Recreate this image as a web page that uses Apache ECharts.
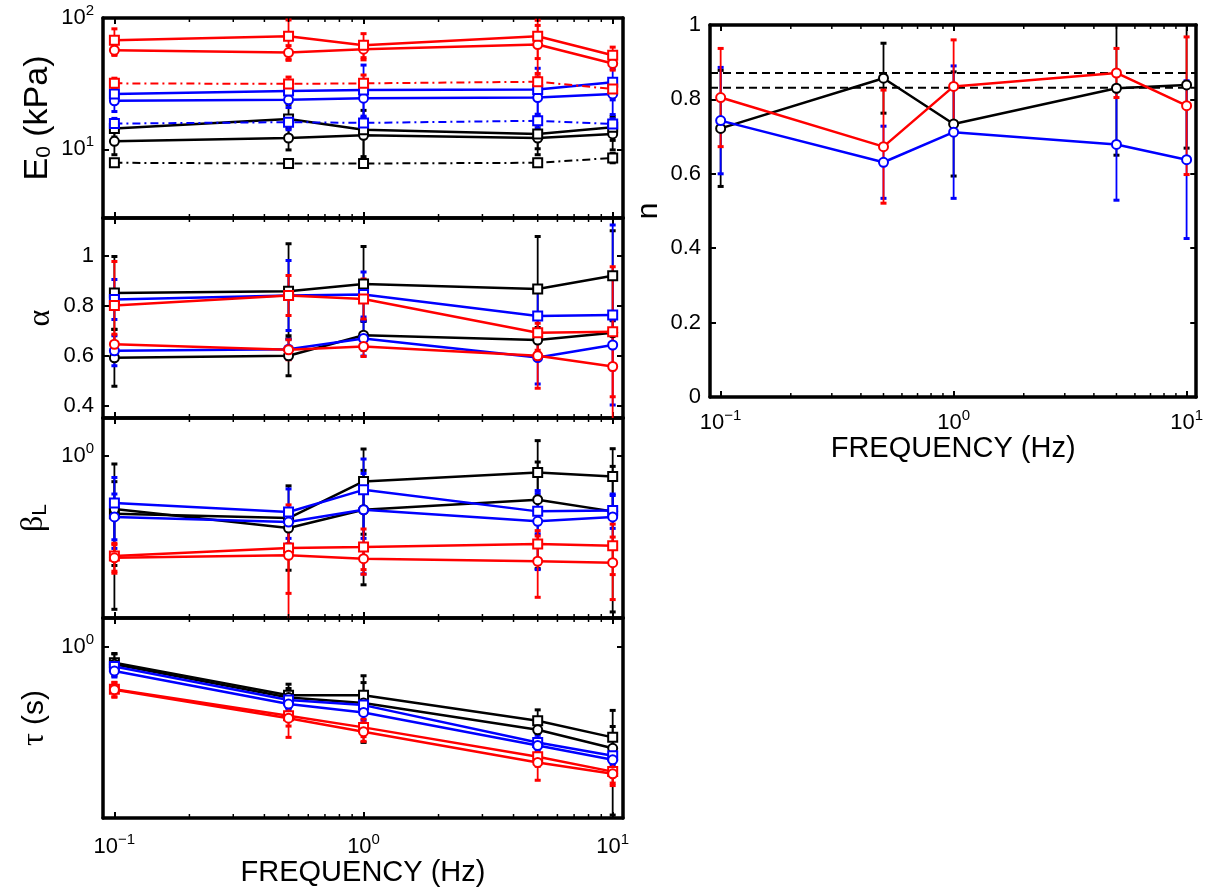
<!DOCTYPE html>
<html><head><meta charset="utf-8">
<script src="https://cdn.jsdelivr.net/npm/echarts@6/dist/echarts.min.js"></script>
<style>html,body{margin:0;padding:0;background:#fff}#c{width:1206px;height:890px}</style>
</head><body><div id="c"></div>
<script>
// ---------------- data ----------------
const freq = [0.1, 0.5, 1, 5, 10];
const minorTicks = [0.2,0.3,0.4,0.5,0.6,0.7,0.8,0.9,2,3,4,5,6,7,8,9];

// E0 (kPa)
const E0_blackDash = [7.9, 7.8, 7.8, 7.9, 8.6];
const E0_blackDash_err = [0.4, 0.4, 0.4, 0.5, 0.7];
const E0_blackCirc = [11.5, 12.2, 12.8, 12.2, 13.1];
const E0_blackCirc_err = [2.4, 2.3, 4, 3.1, 3.2];
const E0_blackSq = [14.4, 17.0, 14.1, 13.1, 14.7];
const E0_blackSq_err = [2, 5, 5.7, 3, 3];
const E0_blueDash = [15.7, 16.1, 15.9, 16.5, 15.6];
const E0_blueDash_err = [1.5, 2, 2, 2, 1.5];
const E0_blueCirc = [23.4, 23.8, 24.5, 24.8, 26.4];
const E0_blueCirc_err = [4, 3, 7, 7, 8];
const E0_blueSq = [26.4, 27.8, 28.3, 28.6, 32.4];
const E0_blueSq_err = [3, 3, 15.5, 12.8, 8.6];
const E0_redDash = [31.8, 31.5, 31.8, 32.7, 28.8];
const E0_redDash_err = [3, 4, 5, 3, 4];
const E0_redCirc = [56.9, 54.6, 57.9, 62.8, 45.1];
const E0_redCirc_err = [5, 7, 8, 25, 5];
const E0_redSq = [67.7, 72.6, 62, 72.6, 52];
const E0_redSq_err = [15, 24, 14, 23.5, 8];

// alpha
const A_blackSq = [0.85, 0.857, 0.886, 0.866, 0.919];
const A_blackSq_err = [0.146, 0.19, 0.15, 0.21, 0.18];
const A_blackCirc = [0.591, 0.599, 0.681, 0.662, 0.691];
const A_blackCirc_err = [0.114, 0.08, 0.06, 0.05, 0.06];
const A_blueSq = [0.824, 0.84, 0.844, 0.758, 0.762];
const A_blueSq_err = [0.08, 0.14, 0.09, 0.1, 0.36];
const A_blueCirc = [0.619, 0.625, 0.668, 0.592, 0.642];
const A_blueCirc_err = [0.06, 0.04, 0.07, 0.106, 0.1];
const A_redSq = [0.80, 0.84, 0.826, 0.691, 0.695];
const A_redSq_err = [0.176, 0.08, 0.08, 0.07, 0.26];
const A_redCirc = [0.645, 0.623, 0.636, 0.599, 0.556];
const A_redCirc_err = [0.04, 0.04, 0.04, 0.13, 0.22];

// beta_L
const B_blackSq = [0.507, 0.482, 0.739, 0.82, 0.783];
const B_blackSq_err = [0.23, 0.22, 0.34, 0.37, 0.3];
const B_blackCirc = [0.536, 0.429, 0.531, 0.597, 0.521];
const B_blackCirc_err = [0.37, 0.1, 0.31, 0.33, 0.36];
const B_blueSq = [0.574, 0.517, 0.67, 0.521, 0.527];
const B_blueSq_err = [0.2, 0.16, 0.29, 0.12, 0.1];
const B_blueCirc = [0.488, 0.46, 0.531, 0.464, 0.488];
const B_blueCirc_err = [0.15, 0.08, 0.28, 0.2, 0.15];
const B_redSq = [0.309, 0.34, 0.344, 0.356, 0.349];
const B_redSq_err = [0.05, 0.14, 0.08, 0.06, 0.1];
const B_redCirc = [0.303, 0.312, 0.3, 0.291, 0.286];
const B_redCirc_err = [0.05, 0.25, 0.05, 0.1, 0.1];

// tau (s)
const T_blackSq = [0.841, 0.586, 0.586, 0.441, 0.367];
const T_blackSq_err = [0.09, 0.076, 0.088, 0.057, 0.047];
const T_blackCirc = [0.826, 0.571, 0.537, 0.399, 0.325];
const T_blackCirc_err = [0.1, 0.06, 0.19, 0.05, 0.17];
const T_blueSq = [0.805, 0.556, 0.525, 0.347, 0.299];
const T_blueSq_err = [0.05, 0.05, 0.05, 0.03, 0.03];
const T_blueCirc = [0.767, 0.531, 0.484, 0.335, 0.286];
const T_blueCirc_err = [0.05, 0.04, 0.04, 0.03, 0.03];
const T_redSq = [0.626, 0.466, 0.41, 0.296, 0.251];
const T_redSq_err = [0.05, 0.05, 0.04, 0.03, 0.03];
const T_redCirc = [0.623, 0.454, 0.391, 0.278, 0.245];
const T_redCirc_err = [0.05, 0.087, 0.04, 0.05, 0.03];

// n
const N_black = [0.722, 0.857, 0.734, 0.83, 0.839];
const N_black_err = [0.156, 0.094, 0.14, 0.18, 0.17];
const N_blue = [0.743, 0.631, 0.712, 0.679, 0.638];
const N_blue_err = [0.143, 0.097, 0.178, 0.15, 0.212];
const N_red = [0.805, 0.673, 0.835, 0.871, 0.783];
const N_red_err = [0.132, 0.152, 0.125, 0.066, 0.185];
const N_refLines = [0.871, 0.831];

// ---------------- styling ----------------
const FONT = '"Liberation Sans", Arial, Helvetica, sans-serif';
const SERIF = '"Liberation Serif", "Times New Roman", serif';
const COL = {k: '#000000', b: '#0000ff', r: '#ff0000'};
const DASHDOT = [8, 4, 2, 4];
const LABEL_SIZE = 22;

function S(v, e, c, m, dash) { return {v, e, c, m, dash}; }

const panels = [
  { grid: {left: 103, top: 18, width: 520, height: 200},
    y: {type: 'log', min: 3, max: 100},
    name: '{A|E}{sub|0}{A| (kPa)}', nameGap: 48, label: 'pow', xLabels: false,
    series: [
      S(E0_blackDash, E0_blackDash_err, 'k', 'rect', true),
      S(E0_blackCirc, E0_blackCirc_err, 'k', 'circle', false),
      S(E0_blackSq, E0_blackSq_err, 'k', 'rect', false),
      S(E0_blueDash, E0_blueDash_err, 'b', 'rect', true),
      S(E0_blueCirc, E0_blueCirc_err, 'b', 'circle', false),
      S(E0_blueSq, E0_blueSq_err, 'b', 'rect', false),
      S(E0_redDash, E0_redDash_err, 'r', 'rect', true),
      S(E0_redCirc, E0_redCirc_err, 'r', 'circle', false),
      S(E0_redSq, E0_redSq_err, 'r', 'rect', false)
    ]},
  { grid: {left: 103, top: 218, width: 520, height: 200},
    y: {type: 'value', min: 0.35, max: 1.15},
    name: '{g|\u03b1}', nameGap: 46, label: 'lin', xLabels: false,
    series: [
      S(A_blackSq, A_blackSq_err, 'k', 'rect', false),
      S(A_blackCirc, A_blackCirc_err, 'k', 'circle', false),
      S(A_blueSq, A_blueSq_err, 'b', 'rect', false),
      S(A_blueCirc, A_blueCirc_err, 'b', 'circle', false),
      S(A_redSq, A_redSq_err, 'r', 'rect', false),
      S(A_redCirc, A_redCirc_err, 'r', 'circle', false)
    ]},
  { grid: {left: 103, top: 418, width: 520, height: 200},
    y: {type: 'log', min: 0.15, max: 1.55},
    name: '{g|\u03b2}{sub|L}', nameGap: 52, label: 'pow', xLabels: false,
    series: [
      S(B_blackSq, B_blackSq_err, 'k', 'rect', false),
      S(B_blackCirc, B_blackCirc_err, 'k', 'circle', false),
      S(B_blueSq, B_blueSq_err, 'b', 'rect', false),
      S(B_blueCirc, B_blueCirc_err, 'b', 'circle', false),
      S(B_redSq, B_redSq_err, 'r', 'rect', false),
      S(B_redCirc, B_redCirc_err, 'r', 'circle', false)
    ]},
  { grid: {left: 103, top: 618, width: 520, height: 200},
    y: {type: 'log', min: 0.15, max: 1.38},
    name: '{g|\u03c4}{a| (s)}', nameGap: 52, label: 'pow', xLabels: true, xMargin: 14, xNameGap: 38,
    series: [
      S(T_blackSq, T_blackSq_err, 'k', 'rect', false),
      S(T_blackCirc, T_blackCirc_err, 'k', 'circle', false),
      S(T_blueSq, T_blueSq_err, 'b', 'rect', false),
      S(T_blueCirc, T_blueCirc_err, 'b', 'circle', false),
      S(T_redSq, T_redSq_err, 'r', 'rect', false),
      S(T_redCirc, T_redCirc_err, 'r', 'circle', false)
    ]},
  { grid: {left: 710, top: 25, width: 488, height: 372},
    y: {type: 'value', min: 0, max: 1, interval: 0.2},
    name: '{a|n}', nameGap: 46, label: 'lin', xLabels: true, xMargin: 11, xNameGap: 33,
    refLines: N_refLines,
    series: [
      S(N_black, N_black_err, 'k', 'circle', false),
      S(N_blue, N_blue_err, 'b', 'circle', false),
      S(N_red, N_red_err, 'r', 'circle', false)
    ]}
];

const rich = {
  b: {fontSize: LABEL_SIZE, fontFamily: FONT, color: '#000'},
  s: {fontSize: 15, fontFamily: FONT, color: '#000', padding: [0, 0, 14, 0]}
};
const nameRich = {
  A: {fontSize: 34, fontFamily: FONT, color: '#000'},
  a: {fontSize: 30, fontFamily: FONT, color: '#000'},
  g: {fontSize: 32, fontFamily: SERIF, color: '#000'},
  sub: {fontSize: 21, fontFamily: FONT, color: '#000', padding: [14, 0, 0, 0]}
};

function powLabel(v) {
  const l = Math.log10(v), r = Math.round(l);
  if (Math.abs(l - r) > 1e-6) return '';
  return '{b|10}{s|' + (r < 0 ? '\u2212' + (-r) : r) + '}';
}
function linLabel(v) {
  const r = Math.round(v * 5);
  if (Math.abs(v * 5 - r) > 1e-6) return '';
  const t = r / 5;
  return t === 0 ? '0' : (t === 1 ? '1' : t.toFixed(1));
}

const frame = {show: true, onZero: false, lineStyle: {color: '#000', width: 3.5}};
const tick = {show: true, inside: true, length: 6, lineStyle: {color: '#000', width: 2}};

const option = {animation: false, backgroundColor: '#fff',
  textStyle: {fontFamily: FONT},
  grid: [], xAxis: [], yAxis: [], series: []};

panels.forEach((p, i) => {
  option.grid.push(Object.assign({containLabel: false}, p.grid));
  const xBase = {gridIndex: i, type: 'log', min: 0.09, max: 11,
    axisLine: frame, axisTick: tick, splitLine: {show: false}};
  option.xAxis.push(Object.assign({}, xBase, {position: 'bottom',
    axisLabel: {show: p.xLabels, formatter: powLabel, margin: p.xMargin || 12,
      fontSize: LABEL_SIZE, fontFamily: FONT, color: '#000', rich: rich},
    name: p.xLabels ? 'FREQUENCY (Hz)' : '', nameLocation: 'middle', nameGap: p.xNameGap || 40,
    nameTextStyle: {fontSize: 29, fontFamily: FONT, color: '#000'}}));
  option.xAxis.push(Object.assign({}, xBase, {position: 'top', axisLabel: {show: false}}));
  const yBase = Object.assign({gridIndex: i, axisLine: frame, axisTick: tick,
    splitLine: {show: false}}, p.y);
  option.yAxis.push(Object.assign({}, yBase, {position: 'left',
    axisLabel: {show: true, formatter: p.label === 'pow' ? powLabel : linLabel, margin: 9,
      fontSize: LABEL_SIZE, fontFamily: FONT, color: '#000', rich: rich},
    name: p.name, nameLocation: 'middle', nameGap: p.nameGap, nameRotate: 90,
    nameTextStyle: {rich: nameRich}}));
  option.yAxis.push(Object.assign({}, yBase, {position: 'right', axisLabel: {show: false}}));
  const xi = i * 2, yi = i * 2;
  const yMid = p.y.type === 'log' ? Math.sqrt(p.y.min * p.y.max) : (p.y.min + p.y.max) / 2;

  // minor ticks on log x axis
  option.series.push({type: 'custom', xAxisIndex: xi, yAxisIndex: yi, silent: true, z: 5,
    data: minorTicks.map(m => [m, yMid]),
    renderItem: (params, api) => {
      const c = api.coord([api.value(0), api.value(1)]);
      const cs = params.coordSys;
      const st = {stroke: '#000', lineWidth: 1.5};
      return {type: 'group', children: [
        {type: 'line', shape: {x1: c[0], y1: cs.y + cs.height, x2: c[0], y2: cs.y + cs.height - 4}, style: st},
        {type: 'line', shape: {x1: c[0], y1: cs.y, x2: c[0], y2: cs.y + 4}, style: st}
      ]};
    }});

  // reference dashed lines
  if (p.refLines) {
    p.refLines.forEach(r => {
      option.series.push({type: 'line', xAxisIndex: xi, yAxisIndex: yi, symbol: 'none', z: 2,
        data: [[0.09, r], [11, r]],
        lineStyle: {color: '#000', width: 2, type: [8, 5]}});
    });
  }

  p.series.forEach((s, k) => {
    const color = COL[s.c];
    const yMin = p.y.min;
    // error bars
    option.series.push({type: 'custom', xAxisIndex: xi, yAxisIndex: yi, z: 3 + k * 0.01,
      data: freq.map((f, j) => [f, s.v[j], s.e[j]]),
      renderItem: (params, api) => {
        const x = api.value(0), v = api.value(1), e = api.value(2);
        const cs = params.coordSys;
        let lo = v - e; if (lo <= yMin) lo = yMin * 0.5;
        const pHi = api.coord([x, v + e]);
        const pLo = api.coord([x, Math.max(lo, 1e-6)]);
        const top = Math.max(cs.y, pHi[1]);
        const bot = Math.min(cs.y + cs.height, pLo[1]);
        const cx = pHi[0];
        const st = {stroke: color, lineWidth: 1.8};
        const ch = [{type: 'line', shape: {x1: cx, y1: top, x2: cx, y2: bot}, style: st}];
        if (pHi[1] >= cs.y) {
          ch.push({type: 'line', shape: {x1: cx - 3, y1: pHi[1], x2: cx + 3, y2: pHi[1]}, style: {stroke: color, lineWidth: 3}});
        }
        if (pLo[1] <= cs.y + cs.height) {
          ch.push({type: 'line', shape: {x1: cx - 3, y1: pLo[1], x2: cx + 3, y2: pLo[1]}, style: {stroke: color, lineWidth: 3}});
        }
        return {type: 'group', children: ch};
      }});
    // line with markers
    option.series.push({type: 'line', xAxisIndex: xi, yAxisIndex: yi, z: 4 + k * 0.01,
      data: freq.map((f, j) => [f, s.v[j]]),
      symbol: s.m === 'rect' ? 'emptyRect' : 'emptyCircle', symbolSize: 9,
      itemStyle: {color: color, borderColor: color, borderWidth: 2.5},
      lineStyle: {color: color, width: s.dash ? 2 : 2.5, type: s.dash ? DASHDOT : 'solid'}});
  });
});

const chart = echarts.init(document.getElementById('c'), null, {renderer: 'canvas'});
chart.setOption(option);
</script>
</body></html>
